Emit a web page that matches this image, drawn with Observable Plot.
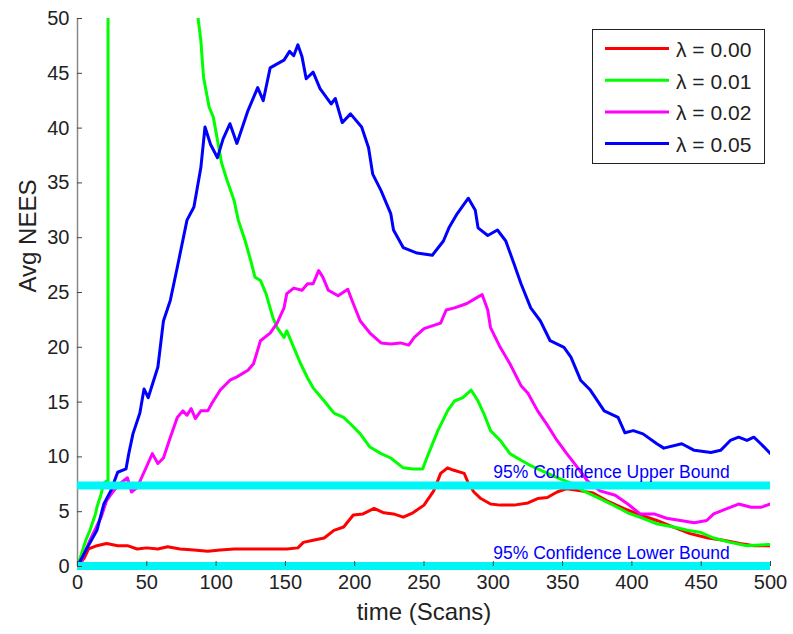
<!DOCTYPE html>
<html>
<head>
<meta charset="utf-8">
<script src="https://cdn.jsdelivr.net/npm/d3@7"></script>
<script src="https://cdn.jsdelivr.net/npm/@observablehq/plot@0.6"></script>
<style>
  body { margin: 0; background: white; }
  #wrap { position: relative; width: 793px; height: 634px; font-family: "Liberation Sans", Arial, sans-serif; }
  #legend { position: absolute; left: 592px; top: 29px; width: 173px; height: 135px; box-sizing: border-box; border: 1px solid #222; background: white; }
</style>
</head>
<body>
<div id="wrap"><div id="legend"></div></div>
<script>
// ---- data ----
const seriesNames = ["λ = 0.00", "λ = 0.01", "λ = 0.02", "λ = 0.05"];
const seriesColors = ["#ff0000", "#00ff00", "#ff00ff", "#0000ff"];

const red = [[0,0],[2,0.3],[5,0.8],[8,1.6],[14,1.9],[21,2.1],[29,1.9],[36,1.9],[43,1.6],[50,1.7],[58,1.6],[65,1.8],[74,1.6],[84,1.5],[94,1.4],[103,1.5],[113,1.6],[123,1.6],[132,1.6],[141,1.6],[151,1.6],[159,1.7],[163,2.2],[170,2.4],[178,2.6],[185,3.3],[192,3.6],[199,4.7],[206,4.8],[214,5.3],[221,4.9],[228,4.8],[235,4.5],[242,4.9],[250,5.6],[257,6.9],[262,8.5],[267,9.0],[271,8.8],[279,8.5],[282,7.6],[286,6.8],[291,6.2],[298,5.7],[305,5.6],[315,5.6],[325,5.8],[332,6.2],[339,6.3],[346,6.8],[353,7.1],[363,6.9],[372,6.7],[382,6.0],[394,5.3],[406,4.7],[418,4.2],[430,3.6],[442,3.0],[455,2.6],[466,2.4],[478,2.1],[488,1.9],[500,1.9]];

const green = [[0,0],[6,2.4],[9,3.3],[13,4.8],[14,5.4],[17,6.6],[19,7.6],[21,7.8],[22,7.8],[23,900],[50,200],[75,75],[87,50],[89,48],[90,46.2],[91,44.6],[95,41.9],[98,41.0],[101,38.9],[104,36.8],[108,35.2],[113,33.4],[116,31.6],[121,29.7],[125,27.9],[128,26.4],[132,26.1],[136,24.9],[141,22.7],[144,21.8],[149,20.9],[151,21.5],[156,20.0],[161,18.5],[166,17.2],[170,16.3],[178,15.1],[185,14.0],[192,13.6],[197,13.0],[204,12.1],[211,10.9],[219,10.3],[226,9.9],[235,9.0],[242,8.9],[249,8.9],[252,9.9],[260,12.4],[267,14.2],[272,15.1],[278,15.4],[284,16.1],[289,15.1],[293,14.0],[298,12.4],[305,11.5],[312,10.3],[320,9.7],[327,9.2],[334,8.8],[346,8.1],[356,7.6],[365,6.9],[375,6.3],[385,5.7],[397,4.9],[408,4.4],[418,3.9],[430,3.6],[440,3.3],[450,3.1],[459,2.6],[471,2.2],[483,1.9],[498,2.0],[500,2.0]];

const magenta = [[0,0],[2,0.3],[9,2.4],[17,4.5],[21,6.0],[26,6.9],[31,7.6],[36,8.1],[39,6.8],[43,7.2],[48,8.6],[54,10.3],[58,9.4],[62,9.9],[67,11.8],[72,13.6],[76,14.2],[79,13.8],[82,14.4],[85,13.5],[89,14.2],[94,14.2],[97,14.9],[103,16.1],[110,17.0],[115,17.3],[123,17.9],[127,18.5],[132,20.6],[139,21.3],[144,22.2],[149,23.6],[151,24.9],[156,25.4],[162,25.2],[166,25.8],[170,25.8],[174,27.0],[177,26.4],[181,25.2],[188,24.7],[195,25.3],[198,24.3],[204,22.4],[211,21.3],[219,20.4],[226,20.3],[233,20.4],[239,20.2],[243,20.9],[250,21.7],[257,22.0],[262,22.2],[266,23.4],[272,23.6],[281,24.0],[289,24.6],[292,24.8],[296,23.4],[298,21.8],[305,20.0],[312,18.5],[320,16.5],[325,15.8],[332,14.2],[339,12.9],[346,11.5],[353,10.3],[361,9.0],[368,7.8],[377,6.9],[388,6.5],[397,5.7],[406,4.8],[416,4.8],[425,4.4],[435,4.2],[445,4.0],[454,4.2],[459,4.8],[469,5.3],[477,5.7],[486,5.4],[493,5.4],[500,5.7]];

const blue = [[0,0],[2,0.5],[7,1.7],[14,3.3],[19,5.7],[24,6.9],[29,8.6],[35,8.9],[37,10.3],[40,12.1],[45,14.0],[48,16.2],[51,15.4],[58,18.2],[62,22.4],[67,24.3],[72,27.3],[79,31.6],[84,32.8],[89,36.4],[92,40.1],[96,38.5],[101,37.3],[105,39.0],[110,40.4],[115,38.6],[123,41.6],[130,43.7],[134,42.5],[139,45.5],[146,46.0],[149,46.2],[153,47.0],[156,46.6],[159,47.6],[162,46.5],[165,44.5],[170,45.1],[175,43.6],[183,42.2],[186,42.7],[191,40.5],[197,41.3],[205,40.1],[210,38.2],[213,35.8],[219,34.3],[226,32.2],[228,30.7],[235,29.1],[245,28.6],[256,28.4],[264,29.7],[268,30.9],[274,32.2],[282,33.6],[287,32.5],[289,30.9],[296,30.2],[303,30.7],[309,29.7],[315,27.6],[320,25.8],[327,23.6],[334,22.4],[341,20.6],[351,20.0],[356,19.1],[363,17.0],[370,16.1],[380,14.2],[390,13.6],[395,12.2],[401,12.4],[408,12.1],[418,11.2],[423,10.8],[436,11.2],[445,10.6],[457,10.4],[464,10.6],[471,11.5],[477,11.8],[483,11.5],[488,11.8],[493,11.2],[500,10.3]];

const boundValues = [7.4, 0.05];
const boundLabels = ["95% Confidence Upper Bound", "95% Confidence Lower Bound"];
const boundLabelX = 300;
const xTicks = [0, 50, 100, 150, 200, 250, 300, 350, 400, 450, 500];
const yTicks = [0, 5, 10, 15, 20, 25, 30, 35, 40, 45, 50];
const xLabel = "time (Scans)";
const yLabel = "Avg NEES";

// ---- build ----
const allSeries = [red, green, magenta, blue];
const rows = allSeries.flatMap((pts, i) => pts.map(([x, y]) => ({x, y, s: seriesNames[i]})));
const bounds = boundValues.map((v, i) => ({y: v, label: boundLabels[i]}));

const chart = Plot.plot({
  width: 793,
  height: 634,
  marginLeft: 77,
  marginRight: 23,
  marginTop: 18,
  marginBottom: 68,
  style: {fontFamily: "'Liberation Sans', Arial, sans-serif", background: "white", color: "#222"},
  x: {domain: [0, 500]},
  y: {domain: [0, 50]},
  color: {domain: seriesNames, range: seriesColors},
  marks: [
    Plot.ruleX([0], {stroke: "#888", strokeWidth: 1.5}),
    ...seriesNames.map(name => Plot.line(rows.filter(r => r.s === name), {x: "x", y: "y", stroke: "s", strokeWidth: 3, clip: true})),
    Plot.ruleY(bounds, {y: "y", x1: 0, x2: 500, stroke: "#00f5f5", strokeWidth: 8}),
    Plot.text(bounds, {x: () => boundLabelX, y: "y", text: "label", textAnchor: "start", dy: -13, fontSize: 17.5, fill: "#0000ff"}),
    Plot.axisX({ticks: xTicks, tickSize: -5, tickPadding: 13, fontSize: 20, label: null, stroke: "#444", tickFormat: d => String(d)}),
    Plot.axisY({ticks: yTicks, tickSize: -5, tickPadding: 13, fontSize: 20, label: null, stroke: "#444", tickFormat: d => String(d)}),
    Plot.text([xLabel], {frameAnchor: "bottom", lineAnchor: "middle", dy: 46, fontSize: 24, fill: "#222"}),
    Plot.text([yLabel], {frameAnchor: "left", lineAnchor: "middle", rotate: -90, dx: -49, fontSize: 24, fill: "#222"})
  ]
});
document.getElementById("wrap").prepend(chart);

// ---- legend (HTML overlay) ----
const lg = d3.select("#legend").append("svg").attr("width", 171).attr("height", 133);
seriesNames.forEach((name, i) => {
  const yy = 18.5 + i * 31.7;
  lg.append("line").attr("x1", 12).attr("x2", 76).attr("y1", yy).attr("y2", yy)
    .attr("stroke", seriesColors[i]).attr("stroke-width", 3);
  lg.append("text").attr("x", 83).attr("y", yy + 1).attr("dy", "0.35em")
    .attr("font-size", 21).attr("fill", "#222")
    .attr("font-family", "'Liberation Sans', Arial, sans-serif").text(name);
});
</script>
</body>
</html>
